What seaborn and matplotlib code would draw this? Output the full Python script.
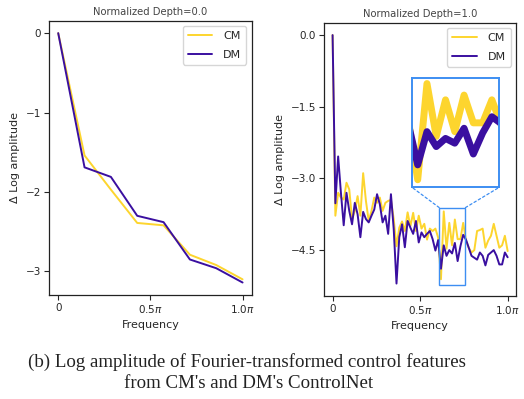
import matplotlib
matplotlib.use("Agg")
import matplotlib.pyplot as plt
import seaborn as sns
import pandas as pd
import numpy as np
from matplotlib.patches import Rectangle, ConnectionPatch

# data
freq_shallow = [0, 1/7, 2/7, 3/7, 4/7, 5/7, 6/7, 1]
cm_shallow = [0.0, -1.54, -1.97, -2.39, -2.42, -2.79, -2.92, -3.10]
dm_shallow = [0.0, -1.69, -1.81, -2.30, -2.38, -2.85, -2.96, -3.14]

freq_deep = list(np.arange(64) / 63)
cm_deep = [0.0, -3.78, -3.30, -3.40, -3.44, -3.09, -3.23, -3.85, -3.68, -3.37,
           -3.78, -2.89, -3.47, -3.89, -3.68, -3.40, -3.51, -3.40, -3.68, -3.51,
           -3.47, -3.45, -3.85, -4.42, -4.03, -3.90, -4.10, -3.71, -4.00, -3.72,
           -4.10, -3.78, -4.05, -3.95, -4.28, -4.05, -4.10, -4.05, -4.24, -5.11,
           -3.69, -4.47, -3.93, -4.40, -3.86, -4.27, -4.27, -3.93, -4.30, -4.45,
           -4.55, -4.50, -4.10, -4.08, -4.05, -4.45, -4.30, -4.20, -3.95, -4.20,
           -4.45, -4.40, -4.20, -4.52]
dm_deep = [0.0, -3.52, -2.54, -3.30, -3.98, -3.30, -3.68, -3.96, -3.51, -3.75,
           -4.23, -3.70, -3.85, -3.92, -3.78, -3.65, -3.33, -3.54, -3.92, -3.78,
           -4.16, -3.33, -4.06, -5.20, -4.23, -3.96, -4.44, -3.89, -4.03, -4.16,
           -3.89, -4.34, -4.13, -4.23, -4.16, -4.10, -4.27, -4.51, -4.29, -4.89,
           -4.40, -4.62, -4.50, -4.57, -4.35, -4.73, -4.42, -4.18, -4.28, -4.45,
           -4.62, -4.66, -4.70, -4.55, -4.62, -4.82, -4.60, -4.55, -4.50, -4.62,
           -4.80, -4.80, -4.55, -4.65]

xtick_vals = [0, 0.5, 1.0]
xtick_labels = ["0", r"0.5$\pi$", r"1.0$\pi$"]
models = ["CM", "DM"]
palette = {"CM": "#FDD52E", "DM": "#3A0FA0"}
zoom_box = (0.609, 0.759, -5.22, -3.61)


def to_long(x, cm, dm):
    return pd.DataFrame({
        "Frequency": list(x) * 2,
        "value": list(cm) + list(dm),
        "model": ["CM"] * len(cm) + ["DM"] * len(dm),
    })


df_shallow = to_long(freq_shallow, cm_shallow, dm_shallow)
df_deep = to_long(freq_deep, cm_deep, dm_deep)

sns.set_theme(style="ticks")
plt.rcParams["font.family"] = ["DejaVu Sans"]

fig = plt.figure(figsize=(5.24, 3.99), dpi=100)
ax1 = fig.add_axes([0.0935, 0.2607, 0.387, 0.6875])
ax2 = fig.add_axes([0.618, 0.2582, 0.3675, 0.685])

for ax, df, title, yticks in [
    (ax1, df_shallow, "Normalized Depth=0.0", [0, -1, -2, -3]),
    (ax2, df_deep, "Normalized Depth=1.0", [0.0, -1.5, -3.0, -4.5]),
]:
    sns.lineplot(data=df, x="Frequency", y="value", hue="model",
                 hue_order=models, palette=palette, linewidth=1.4, ax=ax)
    ax.set_title(title, fontsize=7.2, color="#444444", pad=4)
    ax.set_xlabel("Frequency", fontsize=8, labelpad=4)
    ax.set_ylabel("Δ Log amplitude", fontsize=8, labelpad=4)
    ax.set_xticks(xtick_vals)
    ax.set_xticklabels(xtick_labels)
    ax.set_yticks(yticks)
    ax.tick_params(labelsize=7.5, length=3.5, width=0.8, pad=2)
    for s in ax.spines.values():
        s.set_linewidth(0.9)
        s.set_color("#222222")
    sns.move_legend(ax, "upper right", title=None, frameon=True,
                    fontsize=8, handlelength=2.2, borderpad=0.45,
                    labelspacing=0.75, handletextpad=1.0)

ax1.set_yticklabels(["0", "−1", "−2", "−3"])

# zoomed inset on the deep panel
blue = "#3D8EF2"
axins = ax2.inset_axes([0.457, 0.398, 0.455, 0.399])
sns.lineplot(data=df_deep, x="Frequency", y="value", hue="model",
             hue_order=models, palette=palette, linewidth=5, ax=axins,
             legend=False)
x0, x1, y0, y1 = zoom_box
axins.set_xlim(x0, x1)
axins.set_ylim(y0, y1)
axins.set_xticks([])
axins.set_yticks([])
axins.set_xlabel("")
axins.set_ylabel("")
for s in axins.spines.values():
    s.set_color(blue)
    s.set_linewidth(1.4)

ax2.add_patch(Rectangle((x0, y0), x1 - x0, y1 - y0, fill=False,
                        edgecolor=blue, linewidth=1.0, zorder=5))
for xa, xb in [(x0, 0), (x1, 1)]:
    con = ConnectionPatch(xyA=(xa, y1), coordsA=ax2.transData,
                          xyB=(xb, 0), coordsB=axins.transAxes,
                          color=blue, linestyle=(0, (2, 2)), linewidth=0.9)
    fig.add_artist(con)

# caption
fig.text(0.472, 0.0927, "(b) Log amplitude of Fourier-transformed control features",
         ha="center", va="center", fontsize=13.6, family="Liberation Serif",
         color="#222222")
fig.text(0.475, 0.0376, "from CM's and DM's ControlNet",
         ha="center", va="center", fontsize=13.6, family="Liberation Serif",
         color="#222222")

fig.savefig("out.png", dpi=100)
